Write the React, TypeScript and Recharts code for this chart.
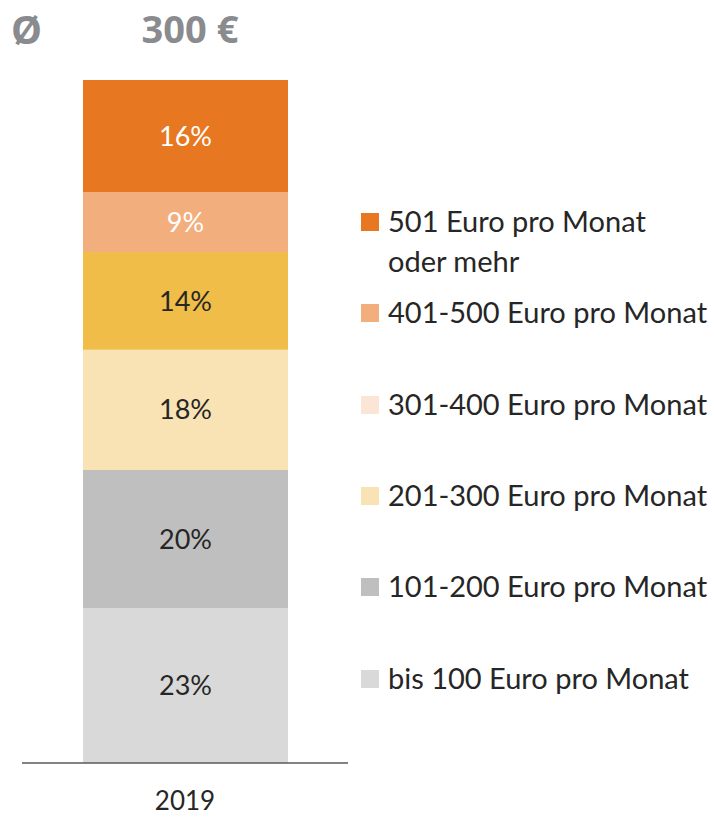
import React from "react";
import { BarChart, Bar, XAxis, YAxis, LabelList } from "recharts";

const categories = ["2019"];
const seriesNames = [
  "bis 100 Euro pro Monat",
  "101-200 Euro pro Monat",
  "201-300 Euro pro Monat",
  "301-400 Euro pro Monat",
  "401-500 Euro pro Monat",
  "501 Euro pro Monat oder mehr",
];
// shares (labels show them rounded)
const seriesValues = [22.7, 20.2, 17.6, 14.3, 8.8, 16.4];
const barColors = ["#D9D9D9", "#BFBFBF", "#F9E3B5", "#F0BD48", "#F2AE7C", "#E87722"];
const labelColors = ["#262626", "#262626", "#262626", "#262626", "#FFFFFF", "#FFFFFF"];
// legend swatches as shown in the reference (top to bottom)
const legendNames = [
  ["501 Euro pro Monat", "oder mehr"],
  ["401-500 Euro pro Monat"],
  ["301-400 Euro pro Monat"],
  ["201-300 Euro pro Monat"],
  ["101-200 Euro pro Monat"],
  ["bis 100 Euro pro Monat"],
];
const legendColors = ["#E87722", "#F2AE7C", "#FBE5D6", "#F9E3B5", "#BFBFBF", "#D9D9D9"];
const legendTops = [0, 91, 183, 274, 365, 457];
const averageLabel = "Ø";
const averageValue = "300 €";

const keys = seriesValues.map((_, i) => "s" + i);
const data = categories.map((c) => {
  const row: any = { cat: c };
  keys.forEach((k, i) => (row[k] = seriesValues[i]));
  return row;
});

const FONT = "Lato, 'Open Sans', sans-serif";
const BOLD_FONT = "'Open Sans', Lato, sans-serif";

const LegendBlock = () => (
  <div style={{ position: "absolute", left: 361, top: 201, width: 350, height: 500, fontFamily: FONT }}>
    {legendNames.map((lines, i) => (
      <div
        key={i}
        style={{ position: "absolute", left: 0, top: legendTops[i], display: "flex", alignItems: "flex-start" }}
      >
        <div style={{ width: 18, height: 18, background: legendColors[i], marginTop: 12, marginRight: 9 }} />
        <div style={{ fontSize: 29, lineHeight: "40px", color: "#262626", whiteSpace: "nowrap" }}>
          {lines.map((l, j) => (
            <div key={j}>{l}</div>
          ))}
        </div>
      </div>
    ))}
  </div>
);

export default function App() {
  return (
    <div style={{ position: "absolute", left: 0, top: 0, width: 715, height: 821, background: "#fff" }}>
      <BarChart
        width={715}
        height={821}
        data={data}
        margin={{ top: 80, right: 367, bottom: 0, left: 22 }}
        barSize={205}
      >
        <XAxis
          dataKey="cat"
          height={58}
          axisLine={{ stroke: "#595959", strokeWidth: 1.5 }}
          tickLine={false}
          tickSize={0}
          tickMargin={29}
          tick={{ fill: "#262626", fontSize: 26, fontFamily: FONT }}
        />
        <YAxis hide domain={[0, 100]} width={0} />
        {keys.map((k, i) => (
          <Bar key={k} dataKey={k} stackId="a" fill={barColors[i]} name={seriesNames[i]} isAnimationActive={false}>
            <LabelList
              dataKey={k}
              position="center"
              formatter={(v: any) => Math.round(Number(v)) + "%"}
              fill={labelColors[i]}
              style={{ fontSize: 27, fontFamily: FONT }}
            />
          </Bar>
        ))}
      </BarChart>
      <div
        style={{
          position: "absolute",
          left: 11,
          top: 2,
          fontFamily: BOLD_FONT,
          fontWeight: 700,
          fontSize: 39,
          color: "#898B8E",
        }}
      >
        {averageLabel}
      </div>
      <div
        style={{
          position: "absolute",
          left: 90,
          width: 200,
          textAlign: "center",
          top: 2,
          fontFamily: BOLD_FONT,
          fontWeight: 700,
          fontSize: 38,
          color: "#898B8E",
        }}
      >
        {averageValue}
      </div>
      <LegendBlock />
    </div>
  );
}
